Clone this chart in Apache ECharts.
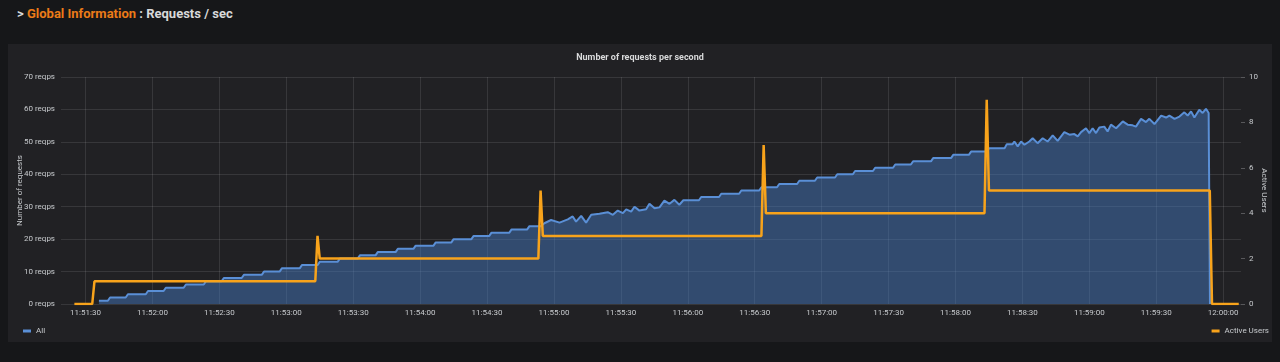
<!DOCTYPE html>
<html>
<head>
<meta charset="utf-8">
<script src="https://cdn.jsdelivr.net/npm/echarts@6/dist/echarts.min.js"></script>
<style>
  html, body { margin: 0; padding: 0; background: #161719; width: 1280px; height: 362px; overflow: hidden; }
  #header { position: absolute; left: 17px; top: 6px; font-family: Roboto, "Noto Sans", sans-serif; font-weight: 700; font-size: 13px; color: #d8d9da; white-space: nowrap; }
  #header .hl { color: #eb7b18; }
  #panel { position: absolute; left: 8px; top: 44px; width: 1264px; height: 298px; background: #212124; }
  #chart { position: absolute; left: 0; top: 0; width: 1280px; height: 362px; }
</style>
</head>
<body>
<div id="header">&gt; <span class="hl">Global Information</span> : Requests / sec</div>
<div id="panel"></div>
<div id="chart"></div>
<script>
// ---- data (time in seconds after 11:51:30) ----
const xTickSeconds = [0, 30, 60, 90, 120, 150, 180, 210, 240, 270, 300, 330, 360, 390, 420, 450, 480, 510];
const xTickLabels = ['11:51:30', '11:52:00', '11:52:30', '11:53:00', '11:53:30', '11:54:00', '11:54:30', '11:55:00', '11:55:30',
  '11:56:00', '11:56:30', '11:57:00', '11:57:30', '11:58:00', '11:58:30', '11:59:00', '11:59:30', '12:00:00'];

// "All" requests per second
const reqSeconds = [
  6, 10, 11, 18, 19, 27, 28, 35, 36, 44, 45, 53, 54, 61, 62, 70, 71, 79, 80, 87, 88, 96, 97, 104, 105,
  113, 114, 122, 123, 130, 131, 139, 140, 147, 148, 156, 157, 164, 165, 173, 174, 181, 182, 190, 191, 198, 199, 204,
  205.7, 208.7, 212.5, 216.2, 218.4, 219.9, 222.2, 224.4, 226.7, 230.4, 234.1, 236.4, 238.6, 240.9, 242.4, 244.6,
  246.1, 248.3, 251.3, 252.8, 255.1, 257.3, 259.5, 261.8, 264.0, 266.2,
  268, 275, 276, 284, 285, 293, 294, 302, 303, 310, 311, 319, 320, 327, 328, 336, 337, 344, 345, 353, 354,
  362, 363, 370, 371, 379, 380, 388, 389, 396, 397, 404, 405, 412,
  413, 415.6, 416.4, 417.9, 419.4, 420.9, 423.1, 424.6, 426.8, 429.1, 431.3, 433.6, 435.8, 438.8, 441.1, 443.3,
  444.8, 446.3, 448.5, 450.0, 451.5, 453.0, 454.5, 456.7, 458.2, 459.7, 462.0, 465.0, 467.2, 469.4, 470.9, 473.2,
  475.4, 476.9, 479.2, 482.2, 484.4, 485.9, 488.2, 490.4, 492.6, 494.1, 495.6, 497.1, 499.3, 500.8, 502.3, 503.5, 504.1
];
const reqValues = [
  1, 1, 2, 2, 3, 3, 4, 4, 5, 5, 6, 6, 7, 7, 8, 8, 9, 9, 10, 10, 11, 11, 12, 12, 13,
  13, 14, 14, 15, 15, 16, 16, 17, 17, 18, 18, 19, 19, 20, 20, 21, 21, 22, 22, 23, 23, 24, 24,
  24.9, 25.9, 25.1, 26.1, 27.0, 25.4, 27.2, 25.1, 27.5, 27.8, 28.3, 27.5, 28.8, 28.0, 29.2, 28.5,
  30.0, 28.8, 29.2, 30.9, 29.5, 29.8, 31.9, 30.9, 32.1, 30.6,
  32, 32, 33, 33, 34, 34, 35, 35, 36, 36, 37, 37, 38, 38, 39, 39, 40, 40, 41, 41, 42,
  42, 43, 43, 44, 44, 45, 45, 46, 46, 47, 47, 48, 48,
  49.3, 49.3, 50.1, 48.6, 50.1, 49.1, 50.1, 51.1, 49.6, 51.1, 50.1, 52.0, 50.3, 53.0, 52.2, 52.4,
  51.7, 53.0, 54.2, 52.7, 54.2, 52.7, 54.4, 54.7, 53.2, 55.3, 54.2, 56.3, 55.3, 55.1, 54.7, 57.1,
  56.1, 57.1, 55.5, 58.1, 57.5, 58.1, 57.1, 57.8, 59.1, 58.1, 59.4, 57.5, 59.9, 58.9, 60.2, 58.9, 0
];

// Active users
const userSeconds = [-5, 3, 4, 103, 104, 105, 203, 204, 205, 303, 304, 305, 403, 404, 405, 504, 505, 517];
const userValues  = [0, 0, 1, 1, 3, 2, 2, 5, 3, 3, 7, 4, 4, 9, 5, 5, 0, 0];

const reqTicks = [0, 10, 20, 30, 40, 50, 60, 70];
const userTicks = [0, 2, 4, 6, 8, 10];

// ---- chart ----
const chart = echarts.init(document.getElementById('chart'), null, { renderer: 'canvas' });
const labelColor = '#c7cacd';
const gridColor = 'rgba(255,255,255,0.10)';
const font = 'Roboto, "Noto Sans", sans-serif';

chart.setOption({
  backgroundColor: 'transparent',
  animation: false,
  textStyle: { fontFamily: font },
  title: {
    text: 'Number of requests per second',
    left: 'center',
    top: 48,
    textStyle: { color: '#d8d9da', fontSize: 9, fontWeight: 'bold', fontFamily: font }
  },
  legend: [
    {
      data: ['All'], left: 18, top: 322, icon: 'rect', itemWidth: 8, itemHeight: 3, itemGap: 4,
      textStyle: { color: labelColor, fontSize: 8, fontFamily: font }
    },
    {
      data: ['Active Users'], right: 6, top: 322, icon: 'rect', itemWidth: 8, itemHeight: 3, itemGap: 4,
      textStyle: { color: labelColor, fontSize: 8, fontFamily: font }
    }
  ],
  grid: { left: 61, right: 39, top: 77, bottom: 58, containLabel: false, outerBoundsMode: 'none' },
  xAxis: {
    type: 'value',
    min: -11,
    max: 518,
    axisLine: { show: false },
    axisTick: { show: false, customValues: xTickSeconds },
    axisLabel: {
      customValues: xTickSeconds,
      color: labelColor, fontSize: 8, margin: 5,
      formatter: (v) => xTickLabels[xTickSeconds.indexOf(v)] || ''
    },
    splitLine: { show: true, lineStyle: { color: gridColor, width: 1 } }
  },
  yAxis: [
    {
      type: 'value', min: 0, max: 70, interval: 10,
      name: 'Number of requests', nameLocation: 'middle', nameGap: 37, nameRotate: 90, nameMoveOverlap: false,
      nameTextStyle: { color: labelColor, fontSize: 8 },
      axisLine: { show: false }, axisTick: { show: false },
      axisLabel: { color: labelColor, fontSize: 8, margin: 6, formatter: (v) => reqTicks.includes(v) ? v + ' reqps' : '' },
      splitLine: { show: true, lineStyle: { color: gridColor, width: 1 } }
    },
    {
      type: 'value', min: 0, max: 10, interval: 2, position: 'right',
      name: 'Active Users', nameLocation: 'middle', nameGap: 19, nameRotate: -90, nameMoveOverlap: false,
      nameTextStyle: { color: labelColor, fontSize: 8 },
      axisLine: { show: false },
      axisTick: { show: true, length: 4, lineStyle: { color: 'rgba(255,255,255,0.25)' } },
      axisLabel: { color: labelColor, fontSize: 8, margin: 8, formatter: (v) => userTicks.includes(v) ? String(v) : '' },
      splitLine: { show: false }
    }
  ],
  series: [
    {
      name: 'All', type: 'line', yAxisIndex: 0, showSymbol: false, symbol: 'none',
      data: reqSeconds.map((t, i) => [t, reqValues[i]]),
      lineStyle: { color: '#5a8fd6', width: 2 },
      itemStyle: { color: '#5a8fd6' },
      areaStyle: { color: 'rgba(70,120,190,0.7)' },
      z: 2
    },
    {
      name: 'Active Users', type: 'line', yAxisIndex: 1, showSymbol: false, symbol: 'none',
      data: userSeconds.map((t, i) => [t, userValues[i]]),
      lineStyle: { color: '#f8a31b', width: 2.5 },
      itemStyle: { color: '#f8a31b' },
      z: 3
    }
  ]
});
</script>
</body>
</html>
